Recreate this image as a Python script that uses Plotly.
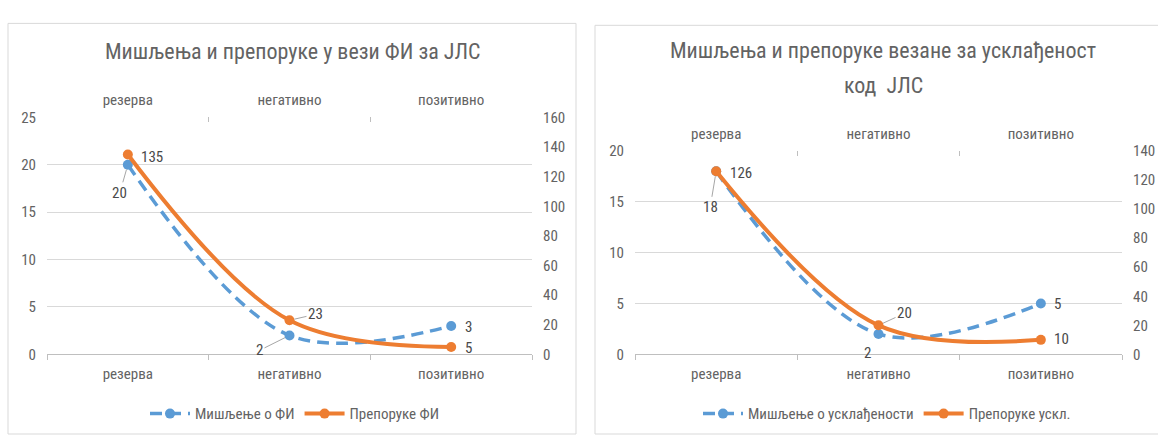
import plotly.graph_objects as go

# Categories shared by both charts
categories = ["резерва", "негативно", "позитивно"]

# Left chart: opinions and recommendations regarding FI for local self-government units
opinions_fi = [20, 2, 3]
recommendations_fi = [135, 23, 5]

# Right chart: opinions and recommendations regarding compliance
opinions_compliance = [18, 2, 5]
recommendations_compliance = [126, 20, 10]

left_y_ticks = [0, 5, 10, 15, 20, 25]
left_y2_ticks = [0, 20, 40, 60, 80, 100, 120, 140, 160]
right_y_ticks = [0, 5, 10, 15, 20]
right_y2_ticks = [0, 20, 40, 60, 80, 100, 120, 140]

W, H = 1158, 443
FONT = "Liberation Sans Narrow, Roboto Condensed, Liberation Sans, sans-serif"
TEXT = "#636363"
LABEL = "#4a4a4a"
GRID = "#D9D9D9"
BLUE = "#5B9BD5"
ORANGE = "#ED7D31"


def px_x(v):
    return v / W


def px_y(v):
    return 1 - v / H


fig = go.Figure()

# --- traces -------------------------------------------------------------
fig.add_trace(go.Scatter(
    x=categories, y=opinions_fi, name="Мишљење о ФИ",
    mode="lines+markers", xaxis="x", yaxis="y", legend="legend",
    line=dict(color=BLUE, width=3.5, dash="12px,7px", shape="spline"),
    marker=dict(color=BLUE, size=10),
))
fig.add_trace(go.Scatter(
    x=categories, y=recommendations_fi, name="Препоруке ФИ",
    mode="lines+markers", xaxis="x2", yaxis="y2", legend="legend",
    line=dict(color=ORANGE, width=4, shape="spline"),
    marker=dict(color=ORANGE, size=10),
))
fig.add_trace(go.Scatter(
    x=categories, y=opinions_compliance, name="Мишљење о усклађености",
    mode="lines+markers", xaxis="x3", yaxis="y3", legend="legend2",
    line=dict(color=BLUE, width=3.5, dash="12px,7px", shape="spline"),
    marker=dict(color=BLUE, size=10),
))
fig.add_trace(go.Scatter(
    x=categories, y=recommendations_compliance, name="Препоруке ускл.",
    mode="lines+markers", xaxis="x4", yaxis="y4", legend="legend2",
    line=dict(color=ORANGE, width=4, shape="spline"),
    marker=dict(color=ORANGE, size=10),
))

# --- axes ---------------------------------------------------------------
tickfont = dict(family=FONT, size=15, color=TEXT)

left_dom_x = [px_x(47), px_x(532)]
right_dom_x = [px_x(635), px_x(1122)]
left_dom_y = [px_y(360), px_y(113)]
right_dom_y = [px_y(360), px_y(148)]


def cat_axis(domain, side, anchor, overlay=None):
    ax = dict(
        type="category", domain=domain, anchor=anchor, side=side,
        range=[-0.5, 2.5], tickson="boundaries",
        ticks="outside" if side == "bottom" else "inside", ticklen=5,
        tickcolor="#BFBFBF", showline=(side == "bottom"), linecolor="#BFBFBF",
        linewidth=1, showgrid=False, zeroline=False, tickfont=tickfont,
        ticklabelstandoff=6 if side == "bottom" else 8,
    )
    if overlay:
        ax["overlaying"] = overlay
    return ax


def val_axis(domain, side, rng, ticks, anchor, overlay=None, grid=True):
    ax = dict(
        domain=domain, side=side, anchor=anchor, range=rng,
        tickvals=ticks, showgrid=grid, gridcolor=GRID, gridwidth=1,
        zeroline=False, showline=False, ticks="", tickfont=tickfont,
        ticklabelstandoff=10,
    )
    if overlay:
        ax["overlaying"] = overlay
    return ax


fig.update_layout(
    xaxis=cat_axis(left_dom_x, "bottom", "y"),
    xaxis2=cat_axis(left_dom_x, "top", "y", overlay="x"),
    yaxis=val_axis(left_dom_y, "left", [0, 25], left_y_ticks, "x"),
    yaxis2=val_axis(left_dom_y, "right", [0, 160], left_y2_ticks, "x",
                    overlay="y", grid=False),
    xaxis3=cat_axis(right_dom_x, "bottom", "y3"),
    xaxis4=cat_axis(right_dom_x, "top", "y3", overlay="x3"),
    yaxis3=val_axis(right_dom_y, "left", [0, 20], right_y_ticks, "x3"),
    yaxis4=val_axis(right_dom_y, "right", [0, 140], right_y2_ticks, "x3",
                    overlay="y3", grid=False),
)

# --- panel frames -------------------------------------------------------
frame = dict(type="rect", xref="paper", yref="paper",
             line=dict(color=GRID, width=1), fillcolor="rgba(0,0,0,0)",
             layer="below")
fig.add_shape(**frame, x0=px_x(8), x1=px_x(576), y0=px_y(443), y1=px_y(15))
fig.add_shape(**frame, x0=px_x(595), x1=px_x(1175), y0=px_y(443), y1=px_y(17))

# --- titles -------------------------------------------------------------
title_font = dict(family=FONT, size=22, color=TEXT)
title_lines = [
    ("Мишљења и препоруке у вези ФИ за ЈЛС", 292, 44),
    ("Мишљења и препоруке везане за усклађеност", 883, 43),
    ("код  ЈЛС", 883, 80),
]
for text, cx, cy in title_lines:
    fig.add_annotation(
        text=text, xref="paper", yref="paper", x=px_x(cx), y=px_y(cy),
        showarrow=False, font=title_font, xanchor="center", yanchor="middle",
    )

# --- data labels --------------------------------------------------------
label_font = dict(family=FONT, size=15, color=LABEL)


def value_label(xr, yr, cat, val, ax=None, ay=None, xshift=0, yshift=0):
    if ax is None:
        fig.add_annotation(
            x=cat, y=val, xref=xr, yref=yr, text=str(val), showarrow=False,
            xshift=xshift, yshift=yshift, font=label_font,
        )
    else:
        fig.add_annotation(
            x=cat, y=val, xref=xr, yref=yr, text=str(val), showarrow=True,
            arrowhead=0, arrowwidth=1, arrowcolor="#A6A6A6", standoff=5,
            ax=ax, ay=ay, font=label_font,
        )


# left chart
value_label("x", "y", categories[0], opinions_fi[0], ax=-8, ay=28)
value_label("x", "y", categories[1], opinions_fi[1], ax=-30, ay=15)
value_label("x", "y", categories[2], opinions_fi[2], xshift=17, yshift=-1)
value_label("x2", "y2", categories[0], recommendations_fi[0], xshift=24, yshift=-3)
value_label("x2", "y2", categories[1], recommendations_fi[1], ax=26, ay=-6)
value_label("x2", "y2", categories[2], recommendations_fi[2], xshift=17, yshift=-1)

# right chart
value_label("x3", "y3", categories[0], opinions_compliance[0], ax=-6, ay=36)
value_label("x3", "y3", categories[1], opinions_compliance[1], xshift=-11, yshift=-19)
value_label("x3", "y3", categories[2], opinions_compliance[2], xshift=17, yshift=0)
value_label("x4", "y4", categories[0], recommendations_compliance[0], xshift=25, yshift=-2)
value_label("x4", "y4", categories[1], recommendations_compliance[1], ax=26, ay=-12)
value_label("x4", "y4", categories[2], recommendations_compliance[2], xshift=21, yshift=1)

# --- legends & page -----------------------------------------------------
legend_font = dict(family=FONT, size=15, color=TEXT)
fig.update_layout(
    width=W, height=H,
    margin=dict(l=0, r=0, t=0, b=0),
    paper_bgcolor="white", plot_bgcolor="white",
    showlegend=True,
    legend=dict(orientation="h", x=px_x(295), y=px_y(422), xanchor="center",
                yanchor="middle", font=legend_font, itemwidth=40,
                bgcolor="rgba(0,0,0,0)"),
    legend2=dict(orientation="h", x=px_x(887), y=px_y(422), xanchor="center",
                 yanchor="middle", font=legend_font, itemwidth=40,
                 bgcolor="rgba(0,0,0,0)"),
)

fig.write_html("out.html")
